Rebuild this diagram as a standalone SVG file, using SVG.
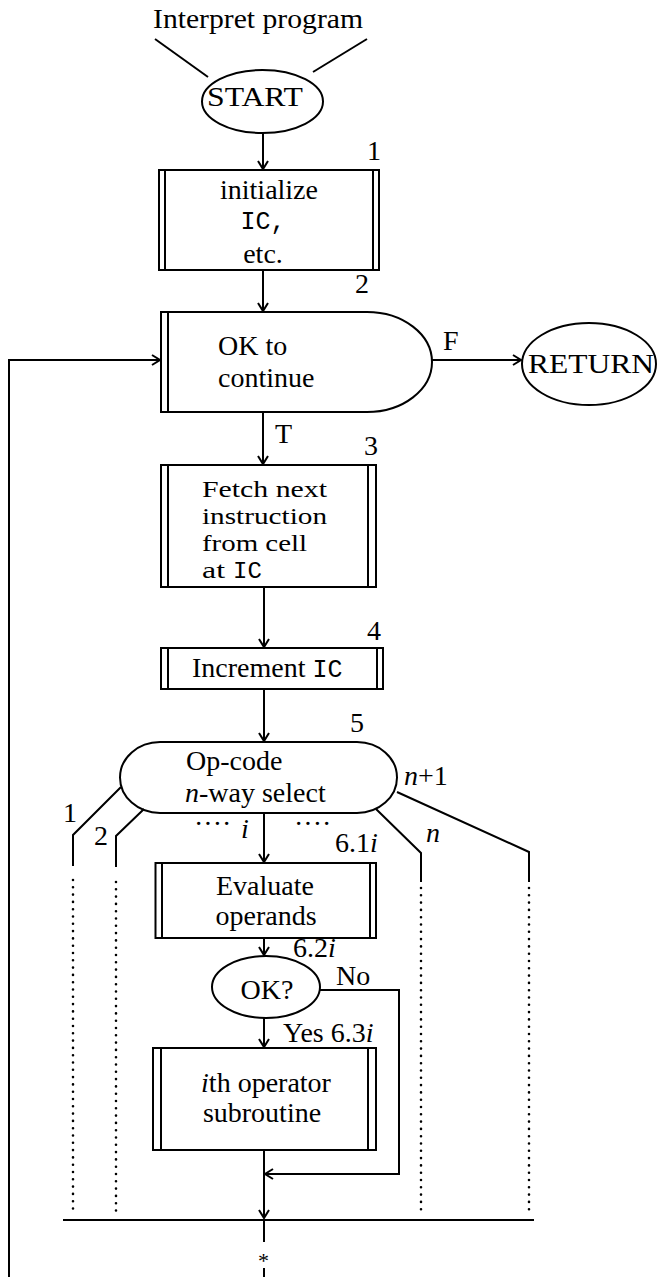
<svg xmlns="http://www.w3.org/2000/svg" width="658" height="1277" viewBox="0 0 658 1277">
<style>
.s{fill:none;stroke:#000;stroke-width:2}
.t{font-family:"Liberation Serif","Times New Roman",serif;font-size:28px;fill:#000}
.m{font-family:"Liberation Mono","Courier New",monospace;font-size:25px;fill:#000}
.i{font-style:italic}
.f3{font-family:"Liberation Serif","Times New Roman",serif;font-size:24px;fill:#000}
.dot{fill:none;stroke:#000;stroke-width:2.6;stroke-linecap:round;stroke-dasharray:0 7.3}
</style>
<defs>
<marker id="ar" viewBox="0 0 12 12" markerWidth="12" markerHeight="12" refX="10" refY="6" orient="auto" markerUnits="userSpaceOnUse">
<path d="M2,1 L10,6 L2,11" fill="none" stroke="#000" stroke-width="2"/>
</marker>
</defs>
<rect width="658" height="1277" fill="#fff"/>

<g id="connectors">
<path class="s" d="M155,39 L208,77"/>
<path class="s" d="M367,39 L313,72"/>
<path class="s" d="M263,133 V169" marker-end="url(#ar)"/>
<path class="s" d="M263,270 V311" marker-end="url(#ar)"/>
<path class="s" d="M263,412 V464" marker-end="url(#ar)"/>
<path class="s" d="M264,587 V647" marker-end="url(#ar)"/>
<path class="s" d="M264,689 V741" marker-end="url(#ar)"/>
<path class="s" d="M264,813 V862" marker-end="url(#ar)"/>
<path class="s" d="M264,938 V955" marker-end="url(#ar)"/>
<path class="s" d="M264,1018 V1047" marker-end="url(#ar)"/>
<path class="s" d="M264,1150 V1218" marker-end="url(#ar)"/>
<path class="s" d="M320,990 H399 V1174 H265" marker-end="url(#ar)"/>
<path class="s" d="M432,360 H521" marker-end="url(#ar)"/>
<path class="s" d="M9,1277 V360 H160" marker-end="url(#ar)"/>
<path class="s" d="M121,787 L73,835 V866"/>
<path class="s" d="M144,809 L116,836 V867"/>
<path class="s" d="M376,809 L421,853 V882"/>
<path class="s" d="M397,792 L529,852 V882"/>
<path class="dot" d="M73,880 V1214"/>
<path class="dot" d="M116,882 V1214"/>
<path class="dot" d="M421,888 V1214"/>
<path class="dot" d="M529,888 V1214"/>
<path class="s" d="M63,1220 H534"/>
<path class="s" d="M264,1220 V1242"/>
<path class="s" d="M264,1268 V1277"/>
<text class="t" x="275" y="443">T</text>
<text class="t" x="443" y="350">F</text>
<text class="t" x="336" y="985">No</text>
<text class="t" x="283" y="1042">Yes 6.3<tspan class="i">i</tspan></text>
<text class="t" x="63" y="822">1</text>
<text class="t" x="94" y="845">2</text>
<text class="t" x="194" y="833">····</text>
<text class="t i" x="241" y="838">i</text>
<text class="t" x="294" y="833">····</text>
<text class="t i" x="426" y="842">n</text>
<text class="t" x="404" y="785"><tspan class="i">n</tspan>+1</text>
<text class="t" x="258" y="1268" style="font-size:22px">*</text>
</g>

<g id="n0">
<text class="t" x="258" y="28" text-anchor="middle" textLength="210" lengthAdjust="spacingAndGlyphs">Interpret program</text>
</g>

<g id="start">
<ellipse class="s" cx="262.5" cy="101.5" rx="60.5" ry="31.5"/>
<text class="t" x="255" y="106" text-anchor="middle" textLength="96" lengthAdjust="spacingAndGlyphs">START</text>
</g>

<g id="n1">
<rect class="s" x="159" y="170" width="220" height="100"/>
<path class="s" d="M165,170 V270 M373,170 V270"/>
<text class="t" x="269" y="199" text-anchor="middle">initialize</text>
<text class="m" x="263" y="229" text-anchor="middle">IC,</text>
<text class="t" x="263" y="263" text-anchor="middle">etc.</text>
<text class="t" x="367" y="160">1</text>
</g>

<g id="n2">
<path class="s" d="M161,312 H367 A65,50 0 0 1 367,412 H161 Z"/>
<path class="s" d="M168,312 V412"/>
<text class="t" x="218" y="355">OK to</text>
<text class="t" x="218" y="387">continue</text>
<text class="t" x="355" y="293">2</text>
</g>

<g id="ret">
<ellipse class="s" cx="589" cy="364" rx="67" ry="41"/>
<text class="t" x="591" y="373" text-anchor="middle" textLength="126" lengthAdjust="spacingAndGlyphs">RETURN</text>
</g>

<g id="n3">
<rect class="s" x="161" y="465" width="215" height="122"/>
<path class="s" d="M168,465 V587 M368,465 V587"/>
<text class="f3" x="202" y="497" textLength="125" lengthAdjust="spacingAndGlyphs">Fetch next</text>
<text class="f3" x="202" y="524" textLength="125" lengthAdjust="spacingAndGlyphs">instruction</text>
<text class="f3" x="202" y="551" textLength="105" lengthAdjust="spacingAndGlyphs">from cell</text>
<text class="f3" x="202" y="578" textLength="23" lengthAdjust="spacingAndGlyphs">at</text>
<text class="m" x="233" y="578" style="font-size:24px">IC</text>
<text class="t" x="364" y="455">3</text>
</g>

<g id="n4">
<rect class="s" x="161" y="648" width="222" height="41"/>
<path class="s" d="M168,648 V689 M377,648 V689"/>
<text class="t" x="192" y="677">Increment <tspan class="m">IC</tspan></text>
<text class="t" x="367" y="640">4</text>
</g>

<g id="n5">
<path class="s" d="M160,742 H357 A40,35.5 0 0 1 357,813 H160 A40,35.5 0 0 1 160,742 Z"/>
<text class="t" x="186" y="770">Op-code</text>
<text class="t" x="185" y="802"><tspan class="i">n</tspan>-way select</text>
<text class="t" x="350" y="732">5</text>
</g>

<g id="n61">
<rect class="s" x="155.5" y="863" width="220.5" height="75"/>
<path class="s" d="M162,863 V938 M370,863 V938"/>
<text class="t" x="265" y="895" text-anchor="middle">Evaluate</text>
<text class="t" x="266" y="925" text-anchor="middle">operands</text>
<text class="t" x="335" y="852">6.1<tspan class="i">i</tspan></text>
</g>

<g id="n62">
<ellipse class="s" cx="266" cy="987" rx="54" ry="31"/>
<text class="t" x="267" y="999" text-anchor="middle">OK?</text>
<text class="t" x="293" y="957">6.2<tspan class="i">i</tspan></text>
</g>

<g id="n63">
<rect class="s" x="153" y="1048" width="223" height="102"/>
<path class="s" d="M161,1048 V1150 M368,1048 V1150"/>
<text class="t" x="266" y="1092" text-anchor="middle"><tspan class="i">i</tspan>th operator</text>
<text class="t" x="262" y="1122" text-anchor="middle">subroutine</text>
</g>
</svg>
